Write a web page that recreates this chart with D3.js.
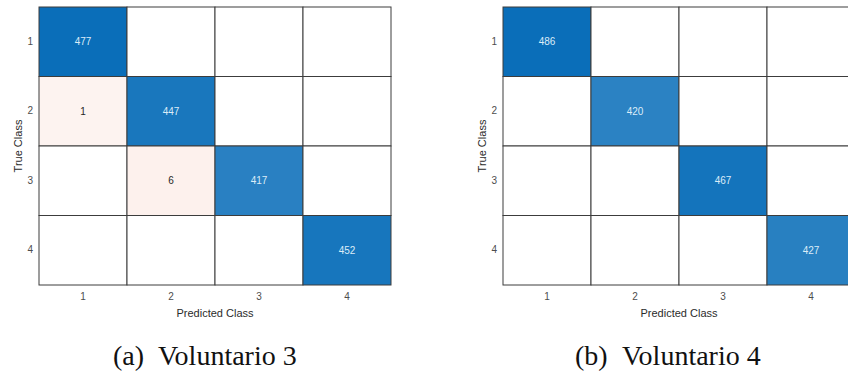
<!DOCTYPE html>
<html>
<head>
<meta charset="utf-8">
<script src="https://cdn.jsdelivr.net/npm/d3@7"></script>
<style>
  html, body { margin: 0; padding: 0; background: #fff; }
  svg { display: block; }
</style>
</head>
<body>
<svg id="chart" width="848" height="377"></svg>
<script>
// Class labels shared by both confusion matrices
const classes = ["1", "2", "3", "4"];

// Counts per (true class row, predicted class column)
const countsA = [
  [477, 0, 0, 0],
  [1, 447, 0, 0],
  [0, 6, 417, 0],
  [0, 0, 0, 452]
];
const countsB = [
  [486, 0, 0, 0],
  [0, 420, 0, 0],
  [0, 0, 467, 0],
  [0, 0, 0, 427]
];

// Subfigure captions
const captionTags = ["(a)", "(b)"];
const captionNames = ["Voluntario 3", "Voluntario 4"];

const xTitle = "Predicted Class";
const yTitle = "True Class";

const svg = d3.select("#chart");

const panels = [
  { counts: countsA, left: 39, tag: captionTags[0], name: captionNames[0], capX: 113, nameX: 158 },
  { counts: countsB, left: 503, tag: captionTags[1], name: captionNames[1], capX: 575, nameX: 622 }
];

const gridTop = 7, gridW = 352, gridH = 278;
const sans = "'Liberation Sans', Arial, Helvetica, sans-serif";

panels.forEach(p => {
  const g = svg.append("g").attr("transform", `translate(${p.left},${gridTop})`);

  const x = d3.scaleBand().domain(classes).range([0, gridW]);
  const y = d3.scaleBand().domain(classes).range([0, gridH]);

  const cells = [];
  p.counts.forEach((row, i) => row.forEach((v, j) => {
    cells.push({ t: classes[i], pr: classes[j], v, diag: i === j });
  }));

  // Diagonal shades scale with the largest correct count; errors get a faint warm tint
  const maxDiag = d3.max(cells.filter(c => c.diag), c => c.v);
  const diagColor = d3.scaleLinear().domain([0, maxDiag]).range(["#ffffff", "#0a6eb9"]);
  const offColor = d3.scaleLinear().domain([0, 477]).range(["#fdf3f0", "#d95319"]);

  g.selectAll("rect.cell").data(cells).join("rect")
    .attr("class", "cell")
    .attr("x", d => x(d.pr))
    .attr("y", d => y(d.t))
    .attr("width", x.bandwidth())
    .attr("height", y.bandwidth())
    .attr("fill", d => d.v === 0 ? "#ffffff" : (d.diag ? diagColor(d.v) : offColor(d.v)))
    .attr("stroke", "#3c3c3c")
    .attr("stroke-width", 1);

  g.selectAll("text.val").data(cells.filter(c => c.v > 0)).join("text")
    .attr("class", "val")
    .attr("x", d => x(d.pr) + x.bandwidth() / 2)
    .attr("y", d => y(d.t) + y.bandwidth() / 2)
    .attr("dy", "0.35em")
    .attr("text-anchor", "middle")
    .attr("font-family", sans)
    .attr("font-size", 10)
    .attr("fill", d => d.diag ? "#dcecf8" : "#262626")
    .text(d => d.v);

  // Bottom axis: predicted class
  const xAxis = g.append("g")
    .attr("transform", `translate(0,${gridH})`)
    .call(d3.axisBottom(x).tickSize(0).tickPadding(8));
  xAxis.select(".domain").remove();
  xAxis.selectAll("text")
    .attr("font-family", sans).attr("font-size", 10).attr("fill", "#4d4d4d");

  // Left axis: true class
  const yAxis = g.append("g")
    .call(d3.axisLeft(y).tickSize(0).tickPadding(6));
  yAxis.select(".domain").remove();
  yAxis.selectAll("text")
    .attr("font-family", sans).attr("font-size", 10).attr("fill", "#4d4d4d");

  g.append("text")
    .attr("x", gridW / 2)
    .attr("y", gridH + 32)
    .attr("text-anchor", "middle")
    .attr("font-family", sans)
    .attr("font-size", 11)
    .attr("fill", "#2b2b2b")
    .text(xTitle);

  g.append("text")
    .attr("transform", `translate(${-17},${gridH / 2}) rotate(-90)`)
    .attr("text-anchor", "middle")
    .attr("font-family", sans)
    .attr("font-size", 11)
    .attr("fill", "#2b2b2b")
    .text(yTitle);

  // Caption below the panel
  const cap = svg.append("text")
    .attr("y", 365)
    .attr("font-family", "'Liberation Serif', 'DejaVu Serif', serif")
    .attr("font-size", 28)
    .attr("fill", "#111");
  cap.append("tspan").attr("x", p.capX).text(p.tag);
  cap.append("tspan").attr("x", p.nameX).text(p.name);
});
</script>
</body>
</html>
